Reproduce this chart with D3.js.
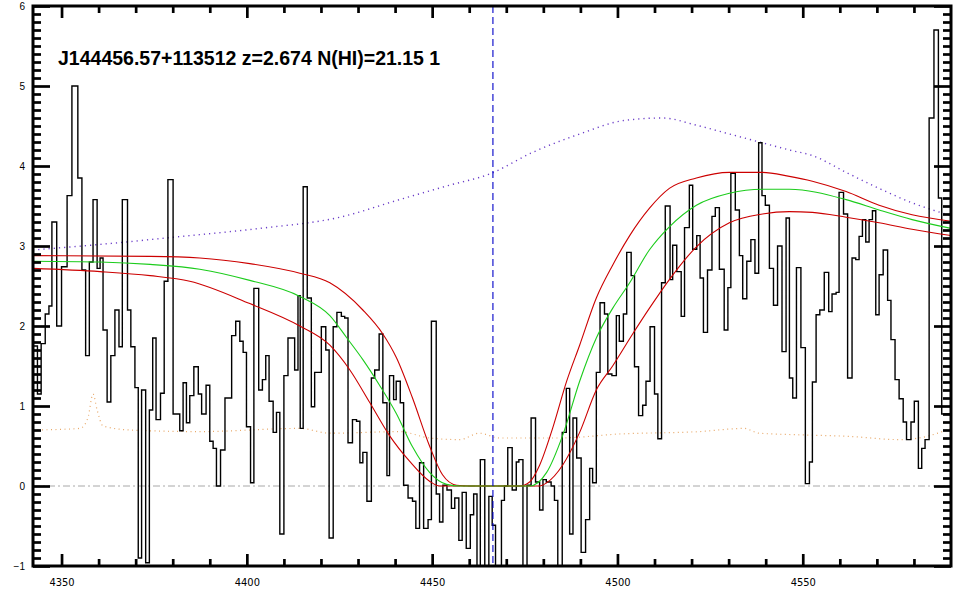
<!DOCTYPE html>
<html><head><meta charset="utf-8">
<script src="https://cdn.jsdelivr.net/npm/d3@7"></script>
<style>
html,body{margin:0;padding:0;background:#fff;}
svg{display:block;}
</style></head>
<body>
<script>
// ---- data ----
const title = "J144456.57+113512 z=2.674 N(HI)=21.15 1";
const xDomain = [4342.3, 4590.0];
const yDomain = [-1, 6];
const xMajorTicks = [4350, 4400, 4450, 4500, 4550];
const yMajorTicks = [-1, 0, 1, 2, 3, 4, 5, 6];
const lyaWave = 4466.4; // 1215.67*(1+2.674)

// spectrum: bin left edges (Angstrom) and flux
const specWave = [4342.3,4343.5,4344.5,4345.6,4346.6,4347.4,4348.7,4350.0,4351.5,4352.8,4354.4,4355.5,4356.5,4357.5,4358.5,4359.6,4360.4,4361.2,4362.3,4363.3,4364.4,4365.5,4366.4,4367.8,4368.7,4369.8,4370.7,4371.6,4372.7,4373.7,4374.6,4375.5,4376.7,4377.7,4378.7,4380.1,4381.9,4382.8,4383.7,4384.6,4385.7,4386.9,4387.8,4389.0,4390.0,4390.9,4391.8,4392.9,4394.1,4395.9,4397.0,4398.1,4399.0,4399.9,4401.0,4401.9,4403.2,4404.2,4405.1,4406.0,4407.1,4408.0,4408.9,4410.0,4411.1,4412.9,4413.8,4414.4,4415.2,4416.3,4417.4,4418.3,4420.1,4421.3,4422.2,4423.3,4424.3,4425.5,4426.4,4427.3,4428.5,4429.6,4430.5,4431.3,4432.4,4433.6,4434.5,4435.7,4436.7,4437.8,4438.5,4439.6,4440.3,4441.4,4442.3,4443.5,4444.7,4445.6,4446.6,4447.7,4448.9,4449.8,4451.1,4452.0,4452.9,4454.0,4455.2,4456.1,4457.2,4458.1,4459.2,4460.3,4461.2,4462.1,4463.0,4464.2,4465.3,4466.2,4467.1,4468.7,4469.5,4470.4,4471.6,4472.7,4473.4,4474.5,4475.6,4476.7,4477.9,4479.0,4479.9,4480.8,4482.1,4483.0,4483.9,4485.1,4486.2,4487.1,4488.0,4489.0,4490.2,4491.4,4492.5,4493.3,4494.3,4495.3,4496.5,4497.4,4498.5,4499.7,4500.5,4501.6,4502.5,4503.7,4504.6,4505.7,4506.8,4507.7,4508.8,4510.0,4510.9,4511.9,4512.9,4514.2,4514.9,4516.0,4517.2,4518.1,4519.4,4520.3,4521.4,4522.3,4523.2,4524.3,4525.5,4526.4,4527.5,4528.8,4529.8,4530.6,4531.8,4532.9,4533.8,4534.9,4536.0,4537.1,4538.1,4539.0,4539.9,4541.0,4542.1,4543.2,4544.4,4545.5,4546.4,4547.3,4548.3,4549.5,4550.7,4551.8,4552.6,4553.6,4554.6,4555.8,4557.0,4557.9,4559.0,4559.8,4561.0,4562.1,4563.3,4564.3,4565.2,4566.1,4567.0,4567.9,4568.8,4569.7,4570.6,4571.7,4572.9,4573.8,4574.9,4576.0,4577.1,4578.0,4579.2,4580.1,4581.2,4582.1,4583.0,4584.1,4585.4,4586.6,4587.5];
const specFlux = [1.75,1.15,1.78,2.15,2.25,3.3,2.0,2.74,3.63,5.0,3.85,2.7,1.63,2.8,3.58,2.72,2.85,1.95,1.05,1.63,2.2,1.74,3.58,2.2,1.74,1.23,-0.9,1.2,-0.96,0.95,1.85,0.83,1.16,2.56,3.83,0.9,0.69,1.29,0.79,1.13,1.49,1.15,0.9,1.26,0.56,0.47,0.0,0.45,1.1,1.88,2.06,1.81,1.67,0.74,0.04,2.47,1.2,1.33,1.63,1.06,0.67,0.92,-0.6,1.38,1.85,1.45,2.38,0.72,3.74,2.35,0.99,1.42,1.99,1.7,-0.65,1.99,2.17,2.12,2.1,0.54,0.83,0.81,0.29,0.42,-0.19,1.35,1.45,1.9,1.04,0.13,1.38,1.08,1.31,1.04,0.01,-0.15,-0.19,-0.53,0.29,-0.53,-0.42,2.06,-0.1,-0.45,0.01,-0.05,-0.28,-0.15,-0.68,-0.08,-0.78,-0.36,-0.1,-1.1,0.33,-1.1,-0.13,-0.49,-1.1,-0.18,0.0,0.48,-0.05,0.3,0.33,-1.1,0.01,0.85,0.05,-0.3,0.08,0.05,0.0,-0.18,-1.1,0.67,1.22,-0.6,0.85,0.35,-0.83,-0.42,0.22,0.04,1.42,2.29,2.15,1.4,1.38,2.13,1.81,2.15,2.92,2.63,1.49,0.88,1.01,1.31,1.99,1.15,0.59,2.54,3.5,2.58,3.01,2.68,2.12,3.23,3.76,2.96,3.13,2.6,1.92,2.7,3.37,3.48,2.71,1.95,2.48,3.91,3.45,2.88,2.34,2.81,3.08,2.66,4.29,3.63,3.51,2.72,2.26,3.0,1.68,3.35,1.35,1.1,2.73,1.73,0.03,0.3,1.3,2.14,2.2,2.67,2.18,2.4,2.42,3.67,3.4,1.35,2.85,2.83,3.12,3.33,3.05,3.33,3.44,2.14,2.64,2.95,2.32,1.83,1.33,1.09,0.8,0.58,0.8,1.06,0.22,0.47,0.58,4.6,5.7,3.6,0.9];
const specEnd = 4590.0;

// continuum (purple dotted)
const contWave = [4342.3,4360.4,4384.6,4403.5,4425.1,4441.2,4454.7,4465.5,4477.1,4489.8,4501.9,4512.1,4521.3,4530.2,4539.1,4546.4,4552.6,4561.7,4570.6,4579.5,4590.0];
const contFlux = [2.95,3.02,3.13,3.22,3.36,3.58,3.76,3.9,4.17,4.4,4.57,4.6,4.51,4.4,4.29,4.2,4.13,3.92,3.72,3.54,3.38];

// best-fit DLA model (green)
const fitWave = [4342.3,4360.4,4373.9,4387.3,4400.8,4414.3,4422.4,4427.0,4431.3,4435.8,4440.4,4444.7,4449.3,4453.9,4457.4,4476.3,4480.9,4485.2,4489.8,4494.3,4498.7,4503.3,4508.6,4514.0,4521.3,4530.2,4539.1,4546.4,4561.7,4570.6,4579.5,4590.0];
const fitFlux = [2.81,2.8,2.77,2.71,2.57,2.37,2.13,1.85,1.58,1.26,0.9,0.49,0.17,0.02,0.0,0.0,0.17,0.63,1.31,1.85,2.22,2.54,2.95,3.24,3.51,3.66,3.71,3.71,3.58,3.45,3.33,3.22];

// upper / lower model bounds (red)
const upWave = [4342.3,4373.9,4387.3,4400.8,4414.3,4422.4,4431.3,4436.7,4440.4,4444.7,4449.3,4452.8,4456.6,4460.1,4473.6,4476.3,4479.0,4482.5,4486.3,4489.8,4494.3,4498.7,4503.3,4508.6,4514.0,4521.3,4530.2,4539.1,4546.4,4552.6,4561.7,4570.6,4579.5,4590.0];
const upFlux = [2.88,2.87,2.85,2.78,2.66,2.54,2.2,1.9,1.6,1.1,0.5,0.14,0.01,0.0,0.0,0.05,0.26,0.72,1.31,1.76,2.35,2.76,3.13,3.47,3.72,3.85,3.92,3.92,3.87,3.81,3.68,3.51,3.39,3.31];
const loWave = [4342.3,4360.4,4373.9,4384.6,4400.8,4414.3,4422.4,4427.8,4433.2,4438.5,4443.9,4449.3,4452.0,4479.0,4480.9,4485.2,4489.8,4494.3,4498.7,4504.1,4508.6,4514.0,4521.3,4530.2,4539.1,4546.4,4552.6,4561.7,4570.6,4579.5,4590.0];
const loFlux = [2.72,2.68,2.63,2.56,2.28,2.0,1.76,1.45,1.04,0.63,0.31,0.06,0.0,0.0,0.04,0.26,0.67,1.2,1.5,1.9,2.22,2.58,2.99,3.29,3.4,3.43,3.42,3.36,3.29,3.21,3.13];

// error array (orange dotted)
const errWave = [4342.3,4355.0,4357.1,4358.5,4359.6,4361.2,4368.5,4387.3,4414.3,4422.4,4441.2,4449.3,4457.4,4462.8,4468.2,4484.4,4500.5,4522.1,4534.2,4538.2,4549.0,4562.5,4576.0,4581.4,4590.0];
const errFlux = [0.7,0.72,0.85,1.15,0.95,0.75,0.7,0.68,0.72,0.66,0.68,0.6,0.58,0.66,0.6,0.6,0.65,0.68,0.72,0.66,0.64,0.62,0.58,0.6,0.72];

// ---- drawing ----
const W = 960, H = 600;
const L = 33, R = 951, T = 6, B = 566;
const svg = d3.select("body").append("svg").attr("width", W).attr("height", H);

const x = d3.scaleLinear().domain(xDomain).range([L, R]);
const y = d3.scaleLinear().domain(yDomain).range([B, T]);

svg.append("defs").append("clipPath").attr("id", "clip")
  .append("rect").attr("x", L).attr("y", T).attr("width", R - L).attr("height", B - T);

const plot = svg.append("g").attr("clip-path", "url(#clip)");

const zip = (ws, fs) => ws.map((w, i) => [w, fs[i]]);
const smooth = d3.line().x(d => x(d[0])).y(d => y(d[1])).curve(d3.curveMonotoneX);

// zero line (dash-dot grey)
plot.append("line").attr("x1", L).attr("x2", R).attr("y1", y(0)).attr("y2", y(0))
  .attr("stroke", "#a8a8a8").attr("stroke-width", 1).attr("stroke-dasharray", "7,3,2,3");

// error array
plot.append("path").datum(zip(errWave, errFlux)).attr("d", smooth)
  .attr("fill", "none").attr("stroke", "#e8a868").attr("stroke-width", 1.2).attr("stroke-dasharray", "1,3.5");

// continuum
plot.append("path").datum(zip(contWave, contFlux)).attr("d", smooth)
  .attr("fill", "none").attr("stroke", "#6a3cc8").attr("stroke-width", 1.4).attr("stroke-dasharray", "1.2,4");

// spectrum histogram
const specPts = zip(specWave, specFlux);
specPts.push([specEnd, specFlux[specFlux.length - 1]]);
plot.append("path").datum(specPts)
  .attr("d", d3.line().x(d => x(d[0])).y(d => y(d[1])).curve(d3.curveStepAfter))
  .attr("fill", "none").attr("stroke", "#000").attr("stroke-width", 1.4);

// models
plot.append("path").datum(zip(upWave, upFlux)).attr("d", smooth)
  .attr("fill", "none").attr("stroke", "#cc0000").attr("stroke-width", 1.1);
plot.append("path").datum(zip(loWave, loFlux)).attr("d", smooth)
  .attr("fill", "none").attr("stroke", "#cc0000").attr("stroke-width", 1.1);
plot.append("path").datum(zip(fitWave, fitFlux)).attr("d", smooth)
  .attr("fill", "none").attr("stroke", "#1ccc1c").attr("stroke-width", 1.1);

// Lya line
plot.append("line").attr("x1", x(lyaWave)).attr("x2", x(lyaWave)).attr("y1", T).attr("y2", B)
  .attr("stroke", "#0000c8").attr("stroke-width", 1.1).attr("stroke-dasharray", "7,4");

// ---- axes ----
const xMinor = d3.range(4350, 4590, 10).filter(v => xMajorTicks.indexOf(v) < 0);
const yMinor = d3.range(-10, 61, 1).map(v => v / 10).filter(v => yMajorTicks.indexOf(v) < 0);

function styleAxis(g) {
  g.select(".domain").remove();
  g.selectAll(".tick line").attr("stroke", "#000").attr("stroke-width", 2.7);
}

// bottom
svg.append("g").attr("transform", `translate(0,${B})`)
  .call(d3.axisBottom(x).tickValues(xMinor).tickSize(-7).tickFormat(""))
  .call(styleAxis);
svg.append("g").attr("transform", `translate(0,${B})`)
  .call(d3.axisBottom(x).tickValues(xMajorTicks).tickSize(-12).tickPadding(12).tickFormat(d3.format("d")))
  .call(styleAxis)
  .selectAll("text").attr("font-family", "'Liberation Sans Narrow','DejaVu Sans Condensed','Liberation Sans',sans-serif")
  .attr("font-size", 11).attr("fill", "#000");
// top
svg.append("g").attr("transform", `translate(0,${T})`)
  .call(d3.axisTop(x).tickValues(xMinor).tickSize(-7).tickFormat(""))
  .call(styleAxis);
svg.append("g").attr("transform", `translate(0,${T})`)
  .call(d3.axisTop(x).tickValues(xMajorTicks).tickSize(-12).tickFormat(""))
  .call(styleAxis);
// left
svg.append("g").attr("transform", `translate(${L},0)`)
  .call(d3.axisLeft(y).tickValues(yMinor).tickSize(-8).tickFormat(""))
  .call(styleAxis);
svg.append("g").attr("transform", `translate(${L},0)`)
  .call(d3.axisLeft(y).tickValues(yMajorTicks).tickSize(-17).tickPadding(8).tickFormat(d3.format("d")))
  .call(styleAxis)
  .selectAll("text").attr("font-family", "'Liberation Sans',Arial,sans-serif")
  .attr("font-size", 10).attr("fill", "#000");
// right
svg.append("g").attr("transform", `translate(${R},0)`)
  .call(d3.axisRight(y).tickValues(yMinor).tickSize(-8).tickFormat(""))
  .call(styleAxis);
svg.append("g").attr("transform", `translate(${R},0)`)
  .call(d3.axisRight(y).tickValues(yMajorTicks).tickSize(-17).tickFormat(""))
  .call(styleAxis);

// frame
svg.append("rect").attr("x", L).attr("y", T).attr("width", R - L).attr("height", B - T)
  .attr("fill", "none").attr("stroke", "#000").attr("stroke-width", 3);

// title
svg.append("text").attr("x", 58).attr("y", 65).text(title)
  .attr("font-family", "'Liberation Sans',Arial,Helvetica,sans-serif")
  .attr("font-weight", "bold").attr("font-size", 19.5).attr("fill", "#000");
</script>
</body></html>
